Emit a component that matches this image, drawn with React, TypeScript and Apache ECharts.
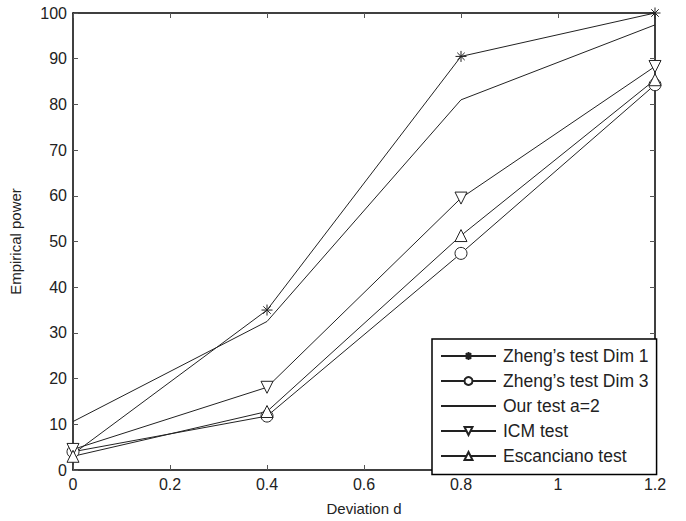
import React, { useEffect, useRef } from "react";
import * as echarts from "echarts";

const xValues = [0, 0.4, 0.8, 1.2];
const zheng1 = [3.5, 35, 90.5, 100];
const zheng3 = [4, 11.8, 47.4, 84.3];
const ourTest = [10.6, 32.5, 81, 97.4];
const icm = [4.5, 18.1, 59.5, 88.3];
const escanciano = [3, 12.8, 51.3, 85.4];

const seriesNames = [
  "Zheng\u2019s test Dim 1",
  "Zheng\u2019s test Dim 3",
  "Our test a=2",
  "ICM test",
  "Escanciano test",
];

const STAR = "path://M5,0L5,10M0,5L10,5M1.6,1.6L8.4,8.4M1.6,8.4L8.4,1.6";
const FONT = "Liberation Sans, Arial, sans-serif";
const INK = "#222";
const CLEAR = "rgba(0,0,0,0)";

function pairs(vals: number[]) {
  return xValues.map((x, i) => [x, vals[i]]);
}

export default function App() {
  const ref = useRef<HTMLDivElement>(null);
  useEffect(() => {
    if (!ref.current) return;
    const chart = echarts.init(ref.current, null, { renderer: "svg" });
    const lineStyle = { color: INK, width: 1 };
    const hollow = { color: "#fff", borderColor: INK, borderWidth: 1 };
    const baseSeries = (name: string, data: number[], extra: any) => ({
      name,
      type: "line",
      data: pairs(data),
      lineStyle,
      itemStyle: hollow,
      symbolSize: 11,
      clip: false,
      xAxisIndex: 0,
      yAxisIndex: 0,
      ...extra,
    });
    const axisTick = { show: true, inside: true, length: 5, lineStyle: { color: "#555", width: 1 } };
    const axisLine = { show: true, onZero: false, lineStyle: { color: "#000", width: 1.5 } };
    chart.setOption({
      animation: false,
      backgroundColor: "#fff",
      textStyle: { fontFamily: FONT },
      grid: { left: 73, right: 31, top: 13, bottom: 49, containLabel: false },
      legend: {
        orient: "vertical",
        left: 432,
        top: 339,
        itemWidth: 55,
        itemHeight: 10,
        itemGap: 7,
        padding: [8, 8, 9.5, 8],
        borderColor: "#000",
        borderWidth: 1.5,
        backgroundColor: "#fff",
        borderRadius: 0,
        textStyle: { fontFamily: FONT, fontSize: 17.5, color: INK, padding: [0, 0, 0, 2] },
        data: seriesNames,
      },
      xAxis: [
        {
          type: "value",
          min: 0,
          max: 1.2,
          interval: 0.2,
          position: "bottom",
          name: "Deviation d",
          nameLocation: "middle",
          nameGap: 31,
          nameTextStyle: { fontFamily: FONT, fontSize: 15, color: INK },
          axisLine,
          axisTick,
          splitLine: { show: false },
          axisLabel: {
            fontFamily: FONT,
            fontSize: 16,
            color: INK,
            margin: 6,
            formatter: (v: number) => String(Math.round(v * 10) / 10),
          },
        },
        {
          type: "value",
          min: 0,
          max: 1.2,
          interval: 0.2,
          position: "top",
          axisLine,
          axisTick,
          splitLine: { show: false },
          axisLabel: { show: false },
        },
      ],
      yAxis: [
        {
          type: "value",
          min: 0,
          max: 100,
          interval: 10,
          position: "left",
          name: "Empirical power",
          nameLocation: "middle",
          nameGap: 50,
          nameTextStyle: { fontFamily: FONT, fontSize: 15, color: INK },
          axisLine,
          axisTick,
          splitLine: { show: false },
          axisLabel: { fontFamily: FONT, fontSize: 16, color: INK, margin: 6 },
        },
        {
          type: "value",
          min: 0,
          max: 100,
          interval: 10,
          position: "right",
          axisLine,
          axisTick,
          splitLine: { show: false },
          axisLabel: { show: false },
        },
      ],
      series: [
        baseSeries(seriesNames[0], zheng1, {
          symbol: STAR,
          symbolSize: 11,
          itemStyle: { color: INK, borderColor: INK, borderWidth: 1 },
        }),
        baseSeries(seriesNames[1], zheng3, { symbol: "circle", symbolSize: 12 }),
        baseSeries(seriesNames[2], ourTest, {
          symbol: "circle",
          symbolSize: 0,
          showSymbol: false,
          itemStyle: { color: CLEAR, borderColor: CLEAR, borderWidth: 0 },
        }),
        baseSeries(seriesNames[3], icm, { symbol: "triangle", symbolRotate: 180, symbolSize: 12 }),
        baseSeries(seriesNames[4], escanciano, { symbol: "triangle", symbolSize: 12 }),
      ],
    });
    return () => chart.dispose();
  }, []);
  return (
    <div
      ref={ref}
      style={{ position: "fixed", left: 0, top: 0, width: 686, height: 521, background: "#fff" }}
    />
  );
}
